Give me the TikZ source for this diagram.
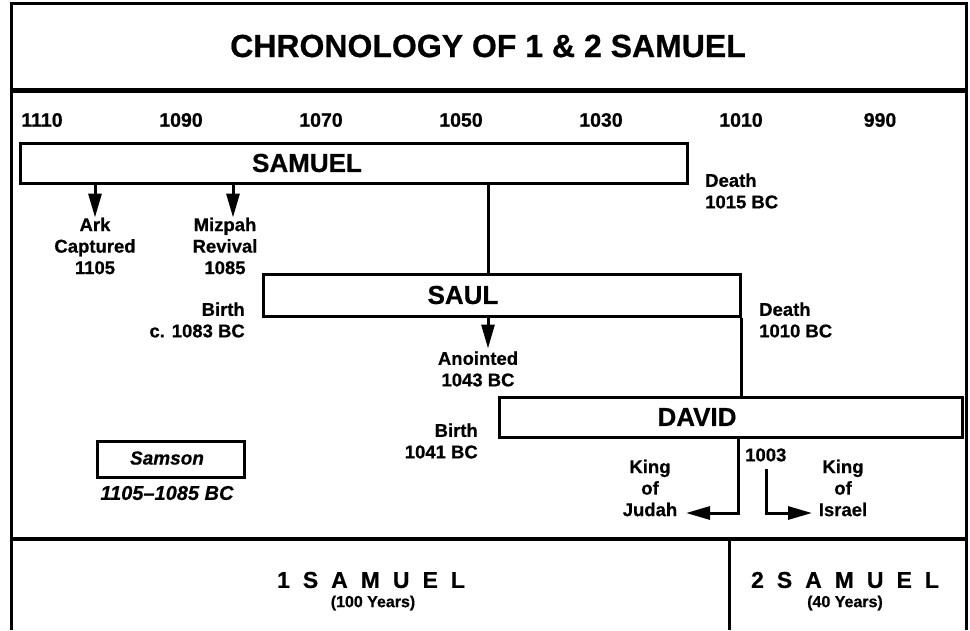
\documentclass[tikz,border=0pt]{standalone}
\usepackage{fontspec}
\setmainfont[BoldFeatures={FakeBold=0.6},BoldItalicFeatures={FakeBold=0.6}]{Liberation Sans}
\usetikzlibrary{arrows.meta}
\begin{document}
\begin{tikzpicture}[x=1pt,y=-1pt,
  frame/.style={line width=3pt},
  bar/.style={draw, line width=3pt, inner sep=0pt},
  conn/.style={line width=3pt},
  arr/.style={line width=3pt, -{Triangle[length=24pt,width=13pt]}},
  lbl/.style={font=\bfseries\fontsize{18.5}{21.5}\selectfont, align=center, inner sep=0pt},
  yr/.style={font=\bfseries\fontsize{19.5}{20}\selectfont, inner sep=0pt},
  barlbl/.style={font=\bfseries\fontsize{26}{28}\selectfont, inner sep=0pt},
  book/.style={font=\bfseries\fontsize{23}{24}\selectfont, inner sep=0pt},
  yrs/.style={font=\bfseries\fontsize{16}{18}\selectfont, inner sep=0pt}]
\useasboundingbox (0,0) rectangle (970,630);
% frame
\draw[frame] (11,630) -- (11,3) -- (966,3) -- (966,630);
\draw[line width=5pt] (11,90) -- (966,90);
\draw[line width=3.5pt] (11,539) -- (966,539);
\draw[line width=3pt] (729,539) -- (729,630);
% title
\node[font=\bfseries\fontsize{32}{34}\selectfont, inner sep=0pt] (title) at (488,46) {CHRONOLOGY OF 1 \& 2 SAMUEL};
% years
\node[yr] (y1110) at (42,120) {1110};
\node[yr] (y1090) at (181,120) {1090};
\node[yr] (y1070) at (321,120) {1070};
\node[yr] (y1050) at (461,120) {1050};
\node[yr] (y1030) at (601,120) {1030};
\node[yr] (y1010) at (741,120) {1010};
\node[yr] (y990) at (880,120) {990};
% bars
\node[bar, minimum width=667pt, minimum height=40pt] (samuelbar) at (353.5,163) {};
\node[barlbl] (samuel) at (307,163) {SAMUEL};
\node[bar, minimum width=477pt, minimum height=42pt] (saulbar) at (501.5,295) {};
\node[barlbl] (saul) at (463,295) {SAUL};
\node[bar, minimum width=463pt, minimum height=40pt] (davidbar) at (730.5,417) {};
\node[barlbl] (david) at (697,417) {DAVID};
\node[bar, minimum width=147pt, minimum height=36pt] (samsonbar) at (170.5,459) {};
\node[font=\bfseries\itshape\fontsize{19}{22}\selectfont, inner sep=0pt] (samson) at (167,458) {Samson};
\node[font=\bfseries\itshape\fontsize{20}{22}\selectfont, inner sep=0pt] (samsondates) at (167,493) {1105--1085 BC};
% labels
\node[lbl] (ark) at (95,246) {Ark\\Captured\\1105};
\node[lbl] (mizpah) at (225,246) {Mizpah\\Revival\\1085};
\node[lbl, align=left, anchor=west] (sdeath) at (705,191) {Death\\1015 BC};
\node[lbl, align=right, anchor=east] (saulbirth) at (245,320) {Birth\\c. 1083 BC};
\node[lbl, align=left, anchor=west] (sauldeath) at (759,320) {Death\\1010 BC};
\node[lbl] (anointed) at (478,369) {Anointed\\1043 BC};
\node[lbl, align=right, anchor=east] (davidbirth) at (478,441) {Birth\\1041 BC};
\node[lbl] (judah) at (650,488) {King\\of\\Judah};
\node[lbl] (israel) at (843,488) {King\\of\\Israel};
\node[lbl, anchor=west] (y1003) at (745,455) {1003};
% connector coordinates
\coordinate (arkx) at (95,0);
\coordinate (mizx) at (233,0);
\coordinate (sx) at (488,0);
\coordinate (dx) at (741,0);
\coordinate (jx) at (738,0);
\coordinate (jend) at (686,513);
\coordinate (istart) at (766,469);
\coordinate (iend) at (812,513);
% connectors
\draw[arr] (samuelbar.south -| arkx) -- ++(0,33);
\draw[arr] (samuelbar.south -| mizx) -- ++(0,33);
\draw[conn] (samuelbar.south -| sx) -- (saulbar.north -| sx);
\draw[arr] (saulbar.south -| sx) -- ++(0,31);
\draw[conn] (saulbar.south -| dx) -- (davidbar.north -| dx);
\draw[arr] (davidbar.south -| jx) |- (jend);
\draw[arr] (istart) |- (iend);
% books
\node[book] (sam1) at (371,580) {1\hspace{13pt}S\hspace{13pt}A\hspace{13pt}M\hspace{13pt}U\hspace{13pt}E\hspace{13pt}L};
\node[yrs] (sam1y) at (373,603) {(100 Years)};
\node[book] (sam2) at (845,580) {2\hspace{13pt}S\hspace{13pt}A\hspace{13pt}M\hspace{13pt}U\hspace{13pt}E\hspace{13pt}L};
\node[yrs] (sam2y) at (845,603) {(40 Years)};
\end{tikzpicture}
\end{document}
